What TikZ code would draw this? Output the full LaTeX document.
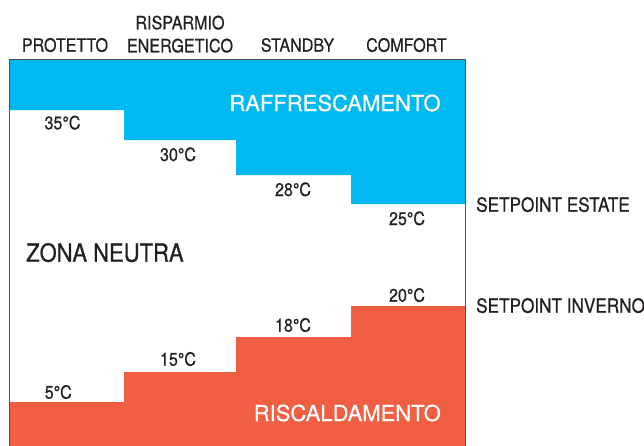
\documentclass[tikz,border=0pt]{standalone}
\usepackage{fontspec}
\setmainfont{TeX Gyre Heros}[FakeStretch=0.88,FakeBold=0.6]
\newfontfamily\largefont{TeX Gyre Heros}[FakeBold=0.5]
\usetikzlibrary{positioning}
\definecolor{testo}{RGB}{35,31,32}
\definecolor{freddo}{RGB}{0,185,241}
\definecolor{caldo}{RGB}{241,95,67}
\definecolor{bordo}{RGB}{80,80,80}

\begin{document}
\begin{tikzpicture}[%
x=1pt,y=-1pt,
modo/.style={text=testo,inner sep=0pt,anchor=base,font=\fontsize{18.3}{20}\selectfont},
temp/.style={text=testo,inner sep=0pt,anchor=base,font=\fontsize{18.3}{20}\selectfont},
setpoint/.style={text=testo,inner sep=0pt,anchor=base west,font=\fontsize{19.5}{22}\selectfont},
zona/.style={text=white,inner sep=0pt,anchor=base,font=\largefont\fontsize{22}{24}\selectfont},
neutra/.style={text=testo,inner sep=0pt,anchor=base west,font=\fontsize{25}{28}\selectfont}]
\useasboundingbox (0,0) rectangle (644,445);
% zone colorate
\fill [freddo] (9,59) -- (465.5,59) -- (465.5,204) -- (351,204) -- (351,175)
  -- (236,175) -- (236,140) -- (124,140) -- (124,110) -- (9,110) -- cycle;
\fill [caldo] (9,446) -- (9,402) -- (124,402) -- (124,372) -- (236,372)
  -- (236,337) -- (351,337) -- (351,306) -- (465.5,306) -- (465.5,446) -- cycle;
\draw [bordo,line width=1pt] (9,446) -- (9,59) -- (465.5,59) -- (465.5,446);
% intestazioni
\node [modo] (protetto) at (65,51.7) {PROTETTO};
\node [modo] (risparmio) at (180,29.3) {RISPARMIO};
\node [modo] (energetico) at (180,52.3) {ENERGETICO};
\node [modo] (standby) at (297.5,51.7) {STANDBY};
\node [modo] (comfort) at (406.5,51.7) {COMFORT};
% temperature
\node [temp] (t35) at (62.5,129.3) {35°C};
\node [temp] (t30) at (178,161) {30°C};
\node [temp] (t28) at (293,196) {28°C};
\node [temp] (t25) at (407,225) {25°C};
\node [temp] (t20) at (407,301.7) {20°C};
\node [temp] (t18) at (293,331.7) {18°C};
\node [temp] (t15) at (178,365.7) {15°C};
\node [temp] (t5)  at (58.3,398.7) {5°C};
% zone
\node [zona] (raffrescamento) at (335,111) {RAFFRESCAMENTO};
\node [zona] (riscaldamento) at (347.3,421) {RISCALDAMENTO};
\node [neutra] (neutra) at (26,261.7) {ZONA NEUTRA};
\node [setpoint] (estate) at (476,211.7) {SETPOINT ESTATE};
\node [setpoint] (inverno) at (476,312.7) {SETPOINT INVERNO};
\end{tikzpicture}
\end{document}
